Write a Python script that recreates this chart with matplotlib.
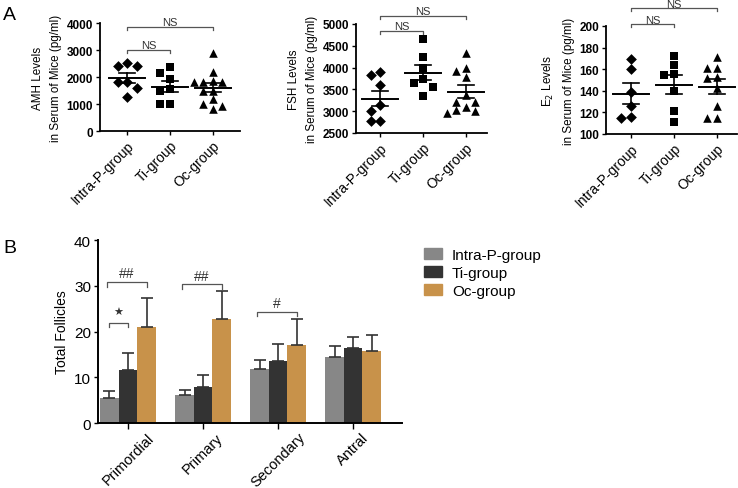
import numpy as np
import matplotlib
matplotlib.use('Agg')
import matplotlib.pyplot as plt
from matplotlib.patches import Patch

plt.rcParams['font.family'] = ['Liberation Sans', 'DejaVu Sans']

groups = ['Intra-P-group', 'Ti-group', 'Oc-group']

# panel A: individual mice values (pg/ml)
amh = [
    [2508, 2396, 2396, 1802, 1802, 1580, 1270],
    [2359, 2150, 1926, 1560, 1500, 1000, 1000],
    [2890, 2170, 1850, 1830, 1800, 1800, 1500, 1490, 1190, 1000, 930, 830],
]
fsh = [
    [3892, 3830, 3601, 3142, 2998, 2782, 2782],
    [4656, 4250, 3991, 3739, 3640, 3562, 3342],
    [4328, 3984, 3929, 3792, 3372, 3218, 3204, 3100, 3028, 2997, 2950],
]
e2 = [
    [169.4, 160.2, 138.6, 126.2, 115.4, 114.5],
    [172.5, 164.2, 155.6, 155.0, 140.1, 121.6, 111.4],
    [171.0, 160.8, 160.8, 152.5, 151.9, 142.6, 126.2, 114.4, 114.4],
]

# panel B: follicle counts, mean and SEM
stages = ['Primordial', 'Primary', 'Secondary', 'Antral']
foll_mean = {
    'Intra-P-group': [5.5, 6.1, 11.7, 14.4],
    'Ti-group': [11.5, 7.9, 13.6, 16.4],
    'Oc-group': [21.0, 22.8, 17.0, 15.7],
}
foll_sem = {
    'Intra-P-group': [1.6, 1.1, 2.0, 2.5],
    'Ti-group': [3.7, 2.6, 3.7, 2.5],
    'Oc-group': [6.4, 6.0, 5.8, 3.5],
}
bar_colors = ['#878787', '#333333', '#c8924a']


def swarm(vals, px_per_val, px_per_cat, step_px=9.5, min_px=8.0):
    # column scatter: push points sideways when they would overlap
    vals = np.asarray(vals, float)
    xs = np.zeros(len(vals))
    placed = []
    for i in np.argsort(-vals):
        y = vals[i] * px_per_val
        for k in [0, -1, 1, -2, 2, -3, 3]:
            x = k * step_px
            if all(np.hypot(x - px, y - py) >= min_px for px, py in placed):
                break
        placed.append((x, y))
        xs[i] = x / px_per_cat
    return xs


def bracket(ax, x0, x1, y, drop, text, dy, fs=8, va='baseline'):
    ax.plot([x0, x0, x1, x1], [y - drop, y, y, y - drop], color='#555555',
            lw=0.9, clip_on=False)
    ax.text((x0 + x1) / 2, y + dy, text, ha='center', va=va, fontsize=fs,
            color='#333333', clip_on=False)


fig = plt.figure(figsize=(7.38, 4.89), dpi=100)

markers = ['D', 's', '^']
msizes = [30, 30, 38]
panels = [
    (amh, [0.1355, 0.730, 0.1897, 0.2209], (0, 4000), np.arange(0, 4001, 1000),
     'AMH Levels\nin Serum of Mice (pg/ml)', (-0.63, 2.63),
     [(0, 2, 3850, 110, 80), (0, 1, 3010, 110, 80)]),
    (fsh, [0.4824, 0.726, 0.1775, 0.2229], (2500, 5000), np.arange(2500, 5001, 500),
     'FSH Levels\nin Serum of Mice (pg/ml)', (-0.56, 2.49),
     [(0, 2, 5184, 70, 40), (0, 1, 4847, 70, 40)]),
    (e2, [0.8211, 0.724, 0.1775, 0.2209], (100, 200), np.arange(100, 201, 20),
     'E$_2$ Levels\nin Serum of Mice (pg/ml)', (-0.58, 2.47),
     [(0, 2, 216.7, 2.8, 1.2), (0, 1, 201.5, 2.8, 1.6)]),
]

for data, rect, ylim, yticks, ylabel, xlim, brs in panels:
    ax = fig.add_axes(rect)
    h_px = rect[3] * 489
    w_px = rect[2] * 738
    ppv = h_px / (ylim[1] - ylim[0])
    ppc = w_px / (xlim[1] - xlim[0])
    for g, vals in enumerate(data):
        xs = swarm(vals, ppv, ppc) + g
        ax.scatter(xs, vals, marker=markers[g], s=msizes[g], color='black',
                   linewidths=0, zorder=3, clip_on=False)
        m = np.mean(vals)
        sem = np.std(vals, ddof=1) / np.sqrt(len(vals))
        ax.plot([g - 0.42, g + 0.42], [m, m], color='black', lw=1.4, zorder=4)
        ax.plot([g - 0.19, g + 0.19], [m + sem, m + sem], color='black', lw=1.2, zorder=4)
        ax.plot([g - 0.19, g + 0.19], [m - sem, m - sem], color='black', lw=1.2, zorder=4)
        ax.plot([g, g], [m - sem, m + sem], color='black', lw=1.2, zorder=4)
    for x0, x1, y, drop, dy in brs:
        bracket(ax, x0, x1, y, drop, 'NS', dy, fs=8)
    ax.set_xlim(xlim)
    ax.set_ylim(ylim)
    ax.set_yticks(yticks)
    ax.set_yticklabels([str(int(t)) for t in yticks], fontweight='bold', fontsize=8.5)
    ax.set_xticks(range(3))
    ax.set_xticklabels(groups, rotation=45, ha='right', rotation_mode='anchor', fontsize=10)
    ax.set_ylabel(ylabel, fontsize=8.4, labelpad=3, linespacing=1.75)
    for s in ['top', 'right']:
        ax.spines[s].set_visible(False)
    for s in ['left', 'bottom']:
        ax.spines[s].set_linewidth(1.3)
    ax.tick_params(length=3, width=1, pad=2)

# panel B
axb = fig.add_axes([0.1328, 0.1329, 0.4119, 0.3742])
x = np.arange(len(stages))
w = 0.247
for i, g in enumerate(groups):
    pos = x + (i - 1) * w
    axb.bar(pos, foll_mean[g], width=w, color=bar_colors[i], label=g, zorder=2)
    axb.errorbar(pos, foll_mean[g], yerr=[np.zeros(len(stages)), foll_sem[g]],
                 fmt='none', ecolor='#333333', elinewidth=1.2, capsize=4,
                 capthick=1.2, zorder=3)
axb.set_xlim(-0.4, 3.65)
axb.set_ylim(0, 40)
axb.set_yticks([0, 10, 20, 30, 40])
axb.tick_params(axis='y', labelsize=11, length=3, width=1, pad=2)
axb.tick_params(axis='x', labelsize=10.5, length=4, width=1, pad=1)
axb.set_xticks(x)
axb.set_xticklabels(stages, rotation=45, ha='center')
axb.set_ylabel('Total Follicles', fontsize=10)
for s in ['top', 'right']:
    axb.spines[s].set_visible(False)
for s in ['left', 'bottom']:
    axb.spines[s].set_linewidth(1.4)

bracket(axb, -w, 0, 21.9, 0.9, '\u2605', 1.2, fs=8, va='bottom')
bracket(axb, -w - 0.03, w, 30.8, 1.0, '##', 0.4, fs=10, va='bottom')
bracket(axb, 1 - w - 0.03, 1 + w, 30.3, 1.0, '##', 0.4, fs=10, va='bottom')
bracket(axb, 2 - w - 0.04, 2 + w, 24.3, 1.0, '#', 0.4, fs=10, va='bottom')

handles = [Patch(color=c) for c in bar_colors]
fig.legend(handles, groups, loc='upper left', bbox_to_anchor=(0.566, 0.504),
           frameon=False, fontsize=11, handlelength=1.18, handleheight=0.8,
           handletextpad=0.65, labelspacing=0.25, borderaxespad=0)

fig.text(0.004, 0.985, 'A', fontsize=14, va='top')
fig.text(0.004, 0.51, 'B', fontsize=14, va='top')

fig.savefig('out.png', dpi=100)
